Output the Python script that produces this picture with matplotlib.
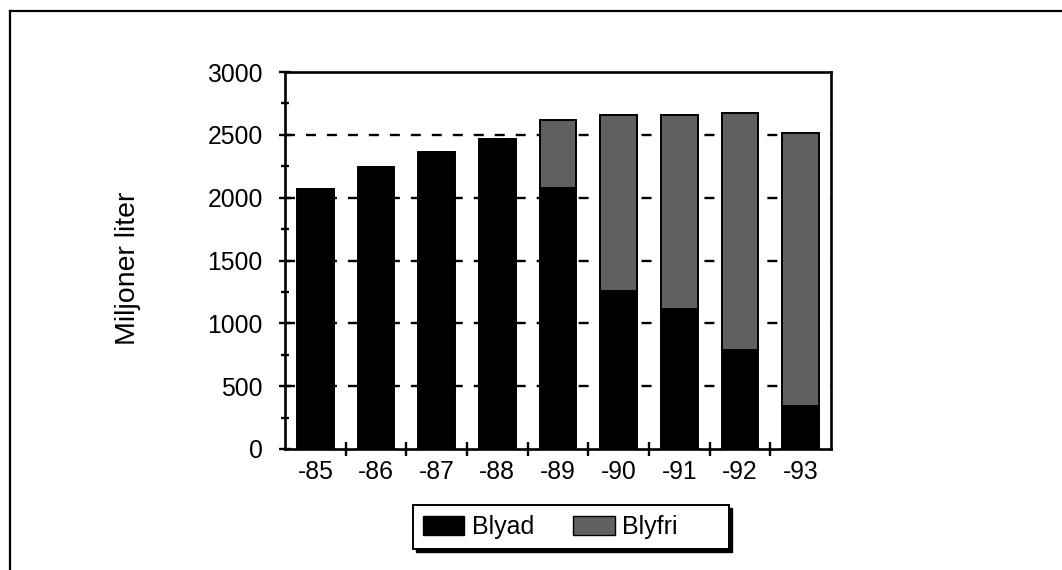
import matplotlib
matplotlib.use("Agg")
import matplotlib.pyplot as plt
from matplotlib.patches import Rectangle, Patch
from matplotlib.lines import Line2D
from matplotlib.ticker import MultipleLocator, FixedLocator
import numpy as np

plt.rcParams['font.family'] = ['Liberation Sans', 'DejaVu Sans']
plt.rcParams['lines.scale_dashes'] = False

years = ['-85', '-86', '-87', '-88', '-89', '-90', '-91', '-92', '-93']
blyad = [2065, 2245, 2360, 2465, 2080, 1255, 1115, 785, 340]
blyfri = [0, 0, 0, 0, 540, 1405, 1545, 1885, 2175]
series_names = ['Blyad', 'Blyfri']
ylabel = 'Miljoner liter'

GRAY = '#606060'

W, H = 1062, 570
fig = plt.figure(figsize=(W / 100, H / 100), dpi=100)

def fx(px):
    return px / W

def fy(py):
    return 1 - py / H

ax_l, ax_r, ax_t, ax_b = 285, 831, 72, 449
ax = fig.add_axes([fx(ax_l), fy(ax_b), fx(ax_r - ax_l), (ax_b - ax_t) / H])

x = np.arange(len(years))
ax.bar(x, blyad, width=0.6, color='black', edgecolor='black', linewidth=1.4, zorder=3)
ax.bar(x, blyfri, width=0.6, bottom=blyad, color=GRAY, edgecolor='black',
       linewidth=1.4, zorder=3)

ax.set_xlim(-0.5, len(years) - 0.5)
ax.set_ylim(0, 3000)

# dashed gridlines
for yv in range(500, 3000, 500):
    ax.axhline(yv, color='black', lw=1.7, linestyle=(0, (7.2, 7.9)), zorder=1)

for s in ax.spines.values():
    s.set_linewidth(1.9)
    s.set_color('black')

ax.yaxis.set_major_locator(MultipleLocator(500))
ax.yaxis.set_minor_locator(MultipleLocator(250))
ax.tick_params(axis='y', which='major', direction='inout', length=9, width=1.7,
               pad=11.5, labelsize=17.8)
ax.tick_params(axis='y', which='minor', direction='inout', length=6, width=1.7)

ax.set_xticks(x)
ax.set_xticklabels(years)
ax.xaxis.set_minor_locator(FixedLocator(np.arange(0.5, len(years) - 0.5, 1)))
ax.tick_params(axis='x', which='major', length=0, pad=8, labelsize=17.8)
ax.tick_params(axis='x', which='minor', direction='inout', length=10, width=1.7)

fig.text(fx(128), fy(268), ylabel, rotation=90, ha='center', va='center', fontsize=20.5)

# outer frame (left and top)
fig.add_artist(Line2D([fx(9.5), fx(9.5)], [0, fy(10.5)], color='black', lw=1.6,
                      transform=fig.transFigure))
fig.add_artist(Line2D([fx(9.5), 1], [fy(10.5), fy(10.5)], color='black', lw=1.6,
                      transform=fig.transFigure))

# legend box with shadow
lb_l, lb_r, lb_t, lb_b = 413, 729, 505, 549
fig.add_artist(Rectangle((fx(lb_l + 3), fy(lb_b + 3)), fx(lb_r - lb_l), (lb_b - lb_t) / H,
                         transform=fig.transFigure, facecolor='black', edgecolor='black',
                         lw=1, zorder=1))
fig.add_artist(Rectangle((fx(lb_l), fy(lb_b)), fx(lb_r - lb_l), (lb_b - lb_t) / H,
                         transform=fig.transFigure, facecolor='white', edgecolor='black',
                         lw=1.4, zorder=2))

handles = [Patch(facecolor='black', edgecolor='black'),
           Patch(facecolor=GRAY, edgecolor='black')]
leg = fig.legend(handles, series_names, loc='center left',
                 bbox_to_anchor=(fx(423), fy(527)), ncol=2, frameon=False,
                 fontsize=18, handlelength=1.65, handleheight=0.8,
                 handletextpad=0.32, columnspacing=1.55, borderpad=0,
                 borderaxespad=0)
leg.set_zorder(5)

fig.savefig('out.png', dpi=100)
